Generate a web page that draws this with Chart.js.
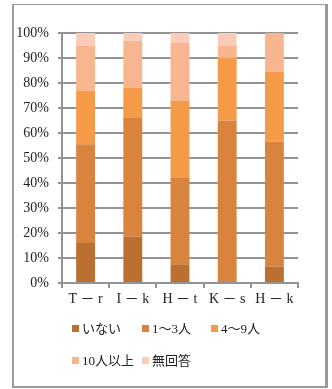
<!DOCTYPE html>
<html>
<head>
<meta charset="utf-8">
<script src="https://cdn.jsdelivr.net/npm/chart.js@4/dist/chart.umd.min.js"></script>
<style>
  html, body { margin: 0; padding: 0; background: #fff; }
  body { width: 332px; height: 389px; position: relative; overflow: hidden; }
  #frame {
    position: absolute; left: 12px; top: 4px; width: 311px; height: 381px;
    border-left: 2px solid #9a9a9a; border-top: 1px solid #9a9a9a;
    border-right: 3px solid #9a9a9a; border-bottom: 2px solid #9a9a9a;
  }
  #chart { position: absolute; left: 0; top: 0; }
  .legend-item {
    position: absolute; height: 16px; line-height: 16px; white-space: nowrap;
    font-family: 'Liberation Serif', 'Noto Sans CJK JP', serif; font-size: 13px; color: #222;
  }
  .legend-item span.box {
    display: inline-block; width: 7px; height: 7px; margin-right: 3px; vertical-align: 1px;
  }
</style>
</head>
<body>
<div id="frame"></div>
<canvas id="chart" width="332" height="389"></canvas>
<div id="legend"></div>
<script>
// Respondents per group, share of answers (%)
const categories = ['T － r', 'I － k', 'H － t', 'K － s', 'H － k'];
const seriesNames = ['いない', '1～3人', '4～9人', '10人以上', '無回答'];
const none = [16, 18.5, 7.5, 0, 6.5];
const oneToThree = [39.5, 47.5, 34.5, 65, 50];
const fourToNine = [21.5, 12, 31, 25, 28];
const tenOrMore = [18, 19, 23, 5, 15.5];
const noAnswer = [5, 3, 4, 5, 0];
const yTicks = [0, 10, 20, 30, 40, 50, 60, 70, 80, 90, 100];

const colors = ['#bb6f31', '#d9843e', '#f59a48', '#f8b690', '#fbcdb8'];
const seriesValues = [none, oneToThree, fourToNine, tenOrMore, noAnswer];

const datasets = seriesNames.map((name, i) => ({
  label: name,
  data: seriesValues[i],
  backgroundColor: colors[i],
  borderWidth: 0,
  categoryPercentage: 1,
  barPercentage: 0.4
}));

const fontFamily = "'Liberation Serif', 'Noto Sans CJK JP', serif";
const gridColor = '#939393';

new Chart(document.getElementById('chart'), {
  type: 'bar',
  data: { labels: categories, datasets },
  options: {
    responsive: false,
    animation: false,
    devicePixelRatio: 1,
    layout: { padding: { left: 0, top: 33, right: 34, bottom: 76 } },
    plugins: { legend: { display: false }, tooltip: { enabled: false } },
    scales: {
      x: {
        stacked: true,
        afterFit: (s) => { s.height = 30; },
        grid: { display: true, drawOnChartArea: false, tickLength: 5, color: gridColor, lineWidth: 2, offset: true },
        border: { display: true, color: gridColor, width: 2 },
        ticks: { font: { family: fontFamily, size: 14 }, color: '#222', padding: 3, maxRotation: 0 }
      },
      y: {
        stacked: true,
        min: 0,
        max: 100,
        afterFit: (s) => { s.width = 62; },
        afterBuildTicks: (s) => { s.ticks = yTicks.map(v => ({ value: v })); },
        grid: { color: gridColor, lineWidth: 2, tickLength: 4 },
        border: { display: true, color: gridColor, width: 2 },
        ticks: {
          font: { family: fontFamily, size: 14 }, color: '#222', padding: 9,
          callback: (v) => v + '%'
        }
      }
    }
  }
});

// Legend: two rows (3 + 2 items)
const legendPos = [[72, 321], [142, 321], [211, 321], [72, 353], [142, 353]];
const legend = document.getElementById('legend');
seriesNames.forEach((name, i) => {
  const el = document.createElement('div');
  el.className = 'legend-item';
  el.style.left = legendPos[i][0] + 'px';
  el.style.top = legendPos[i][1] + 'px';
  const box = document.createElement('span');
  box.className = 'box';
  box.style.background = colors[i];
  el.appendChild(box);
  el.appendChild(document.createTextNode(name));
  legend.appendChild(el);
});
</script>
</body>
</html>
